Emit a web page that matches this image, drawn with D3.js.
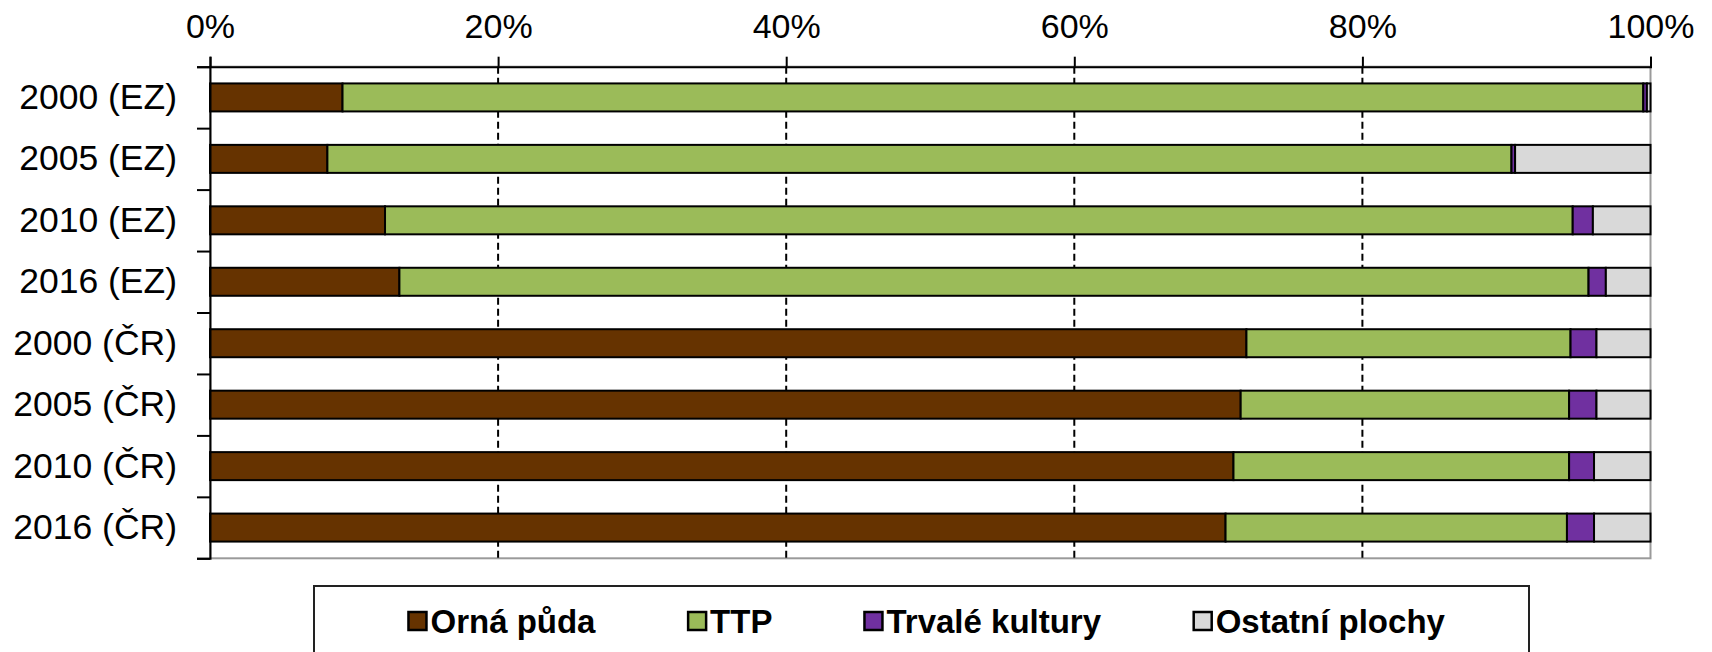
<!DOCTYPE html>
<html>
<head>
<meta charset="utf-8">
<script src="https://cdn.jsdelivr.net/npm/d3@7"></script>
<style>
  body { margin: 0; background: #fff; }
  svg { display: block; font-family: "Liberation Sans", Arial, sans-serif; }
</style>
</head>
<body>
<div id="chart"></div>
<script>
// categories (top to bottom)
var categories = ['2000 (EZ)', '2005 (EZ)', '2010 (EZ)', '2016 (EZ)',
                  '2000 (ČR)', '2005 (ČR)', '2010 (ČR)', '2016 (ČR)'];

// shares in %
var ornaPuda       = [9.2, 8.15, 12.15, 13.15, 71.95, 71.55, 71.05, 70.5];
var ttp            = [90.3, 82.2, 82.45, 82.55, 22.5, 22.8, 23.3, 23.7];
var trvaleKultury  = [0.25, 0.25, 1.4, 1.2, 1.8, 1.9, 1.73, 1.88];
var ostatniPlochy  = [0.25, 9.4, 4.0, 3.1, 3.75, 3.75, 3.92, 3.92];

var seriesNames  = ['Orná půda', 'TTP', 'Trvalé kultury', 'Ostatní plochy'];
var seriesColors = ['#663300', '#9bbb59', '#7030a0', '#d9d9d9'];
var xTicks       = [0, 0.2, 0.4, 0.6, 0.8, 1];

var WIDTH   = 1712,
    HEIGHT  = 652,
    LEFT    = 210,
    RIGHT   = 1650.5,
    TOP     = 66.7,
    BOTTOM  = 558.3;

var svg = d3.select('#chart').append('svg')
    .attr('width', WIDTH)
    .attr('height', HEIGHT);

svg.append('rect').attr('width', WIDTH).attr('height', HEIGHT).attr('fill', '#fff');

var rows = categories.map(function(c, i){
    return { cat: c, s0: ornaPuda[i], s1: ttp[i], s2: trvaleKultury[i], s3: ostatniPlochy[i] };
});

var stack = d3.stack()
    .keys(['s0', 's1', 's2', 's3'])
    .offset(d3.stackOffsetExpand);
var layers = stack(rows);

var x = d3.scaleLinear().domain([0, 1]).range([LEFT, RIGHT]);
var y = d3.scaleBand().domain(categories).range([TOP, BOTTOM]).paddingInner(0).paddingOuter(0);
var yIdx = d3.scaleLinear().domain([0, categories.length]).range([TOP, BOTTOM]);

var BAR_H = 28;

// plot area border (grey right / bottom)
svg.append('rect')
    .attr('x', LEFT).attr('y', TOP)
    .attr('width', RIGHT - LEFT).attr('height', BOTTOM - TOP)
    .attr('fill', 'none')
    .attr('stroke', '#9a9a9a')
    .attr('stroke-width', 2);

// dashed gridlines
svg.append('g').selectAll('line')
    .data(xTicks.slice(1, -1))
    .enter().append('line')
    .attr('x1', function(d){ return x(d); })
    .attr('x2', function(d){ return x(d); })
    .attr('y1', TOP).attr('y2', BOTTOM)
    .attr('stroke', '#000')
    .attr('stroke-width', 2)
    .attr('stroke-dasharray', '7,4');

// bars
var layerG = svg.append('g').selectAll('g')
    .data(layers)
    .enter().append('g')
    .attr('fill', function(d, i){ return seriesColors[i]; });

layerG.selectAll('rect')
    .data(function(d){ return d; })
    .enter().append('rect')
    .attr('x', function(d){ return x(d[0]); })
    .attr('width', function(d){ return x(d[1]) - x(d[0]); })
    .attr('y', function(d){ return y(d.data.cat) + y.bandwidth() / 2 - BAR_H / 2; })
    .attr('height', BAR_H)
    .attr('stroke', '#000')
    .attr('stroke-width', 2);

// top x axis
var xAxis = svg.append('g')
    .attr('transform', 'translate(0,' + TOP + ')')
    .call(d3.axisTop(x).tickValues(xTicks).tickFormat(d3.format('.0%')).tickSize(10).tickPadding(19));
xAxis.select('.domain').attr('stroke', '#000').attr('stroke-width', 2);
xAxis.selectAll('.tick line').attr('stroke', '#000').attr('stroke-width', 2);
xAxis.selectAll('text').attr('font-size', 34).attr('fill', '#000')
    .attr('font-family', '"Liberation Sans", Arial, sans-serif');

// left axis: ticks between categories
var yAxis = svg.append('g')
    .attr('transform', 'translate(' + LEFT + ',0)')
    .call(d3.axisLeft(yIdx).tickValues(d3.range(categories.length + 1)).tickFormat('').tickSize(13));
yAxis.select('.domain').attr('stroke', '#000').attr('stroke-width', 2);
yAxis.selectAll('.tick line').attr('stroke', '#000').attr('stroke-width', 2);

// category labels
var yLabels = svg.append('g')
    .attr('transform', 'translate(' + LEFT + ',0)')
    .call(d3.axisLeft(y).tickSize(0).tickPadding(33));
yLabels.select('.domain').remove();
yLabels.selectAll('text').attr('font-size', 35.5).attr('fill', '#000')
    .attr('font-family', '"Liberation Sans", Arial, sans-serif');

// legend
var LEG_X = 314, LEG_Y = 586, LEG_W = 1215, LEG_H = 110;
svg.append('rect')
    .attr('x', LEG_X).attr('y', LEG_Y)
    .attr('width', LEG_W).attr('height', LEG_H)
    .attr('fill', '#fff')
    .attr('stroke', '#222')
    .attr('stroke-width', 2);

var SQ = 18, GAP_TEXT = 4, GAP_ITEM = 92, LEG_CY = 621;
var legendG = svg.append('g');
var items = legendG.selectAll('g')
    .data(seriesNames)
    .enter().append('g');

items.append('rect')
    .attr('y', LEG_CY - SQ / 2)
    .attr('width', SQ).attr('height', SQ)
    .attr('fill', function(d, i){ return seriesColors[i]; })
    .attr('stroke', '#000')
    .attr('stroke-width', 2.5);

items.append('text')
    .attr('x', SQ + GAP_TEXT)
    .attr('y', LEG_CY)
    .attr('dy', '0.36em')
    .attr('font-size', 33)
    .attr('font-weight', 'bold')
    .text(function(d){ return d; });

var widths = [];
items.each(function(){ widths.push(this.getBBox().width); });
var total = d3.sum(widths) + GAP_ITEM * (widths.length - 1);
var cx = 927;
var pos = cx - total / 2;
items.attr('transform', function(d, i){
    var t = 'translate(' + pos + ',0)';
    pos += widths[i] + GAP_ITEM;
    return t;
});
</script>
</body>
</html>
